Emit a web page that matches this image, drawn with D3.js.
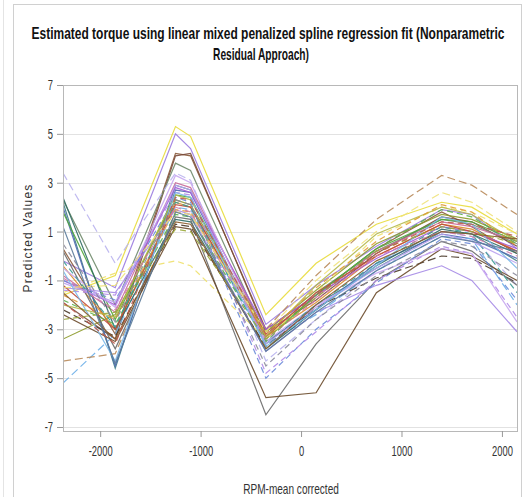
<!DOCTYPE html>
<html>
<head>
<meta charset="utf-8">
<script src="https://cdn.jsdelivr.net/npm/d3@7"></script>
<style>
  html, body { margin: 0; padding: 0; background: #fff; }
  svg { display: block; }
</style>
</head>
<body>
<svg id="chart" width="525" height="497"></svg>
<script>
// RPM knots (mean corrected) at which each subject's fitted curve is evaluated
const rpmKnots = [-2370, -1850, -1250, -1100, -350, 150, 750, 1400, 1700, 2150];

// Predicted torque for each subject, one row per subject, aligned with rpmKnots
const predictedValues = [
  [-1.6, -0.8, 5.3, 4.9, -2.4, -0.3, 1.3, 2.2, 2.0, 0.9],
  [-0.2, -1.3, 5.0, 4.4, -2.8, -1.2, 0.4, 1.9, 1.7, 0.3],
  [0.3, -3.2, 4.2, 4.1, -3.0, -1.6, 0.3, 1.8, 1.2, 0.1],
  [-1.9, -3.4, 4.1, 4.2, -3.1, -1.8, 0.1, 1.6, 1.4, 0.4],
  [2.3, -2.0, 3.8, 3.5, -3.3, -1.5, 0.2, 1.5, 1.3, 0.5],
  [3.4, -0.3, 3.4, 3.1, -4.3, -2.6, -0.6, 1.0, 0.8, -1.2],
  [2.2, -4.6, 2.9, 2.7, -3.6, -2.0, -0.5, 1.0, 0.9, -0.2],
  [2.0, -4.5, 2.7, 2.6, -3.5, -2.2, -0.3, 0.9, 0.7, -0.1],
  [-0.8, -2.3, 3.0, 2.8, -3.2, -1.7, 0.2, 1.4, 1.2, 0.6],
  [1.8, -2.6, 2.5, 2.4, -3.4, -1.6, 0.3, 1.5, 1.4, 0.6],
  [-3.4, -2.4, 2.3, 2.1, -3.1, -1.4, 0.5, 1.7, 1.5, 0.7],
  [-0.4, -3.0, 2.2, 2.0, -3.3, -1.9, 0.0, 1.3, 1.1, 0.2],
  [-5.2, -3.2, 2.0, 1.9, -3.6, -2.4, -0.6, 0.8, 0.7, -2.0],
  [-4.3, -4.0, 1.8, 1.7, -3.0, -0.8, 1.5, 3.3, 2.9, 1.7],
  [-1.5, -0.7, -0.2, -0.4, -3.4, -1.5, 0.8, 2.0, 1.8, 0.9],
  [2.4, -3.0, 1.5, 1.4, -3.8, -2.2, -0.4, 1.1, 0.9, 0.1],
  [-1.0, -2.0, 2.8, 2.6, -3.0, -1.6, -0.1, 1.2, 1.0, 0.3],
  [-2.2, -3.3, 1.3, 1.2, -3.7, -2.1, -0.9, 0.0, -0.1, -1.1],
  [0.2, -3.8, 1.6, 1.5, -6.5, -3.6, -1.0, 0.6, 0.2, -1.2],
  [-2.4, -3.5, 1.2, 1.1, -5.8, -5.6, -1.5, 0.3, 0.0, -1.0],
  [-1.3, -1.5, 1.9, 1.7, -3.9, -2.3, -1.2, -0.4, -1.0, -3.1],
  [-1.0, -1.8, 2.4, 2.2, -5.0, -3.0, -1.1, 0.7, 0.5, -1.8],
  [-1.4, -1.6, 2.6, 2.5, -4.8, -3.1, -1.0, 0.4, 0.1, -2.5],
  [-0.5, -2.1, 3.3, 3.0, -3.5, -2.0, -0.7, 0.3, 0.1, -2.7],
  [-1.2, -3.0, 2.1, 2.0, -3.3, -1.5, 0.0, 1.3, 1.0, 0.2],
  [-1.8, -2.8, 1.7, 1.6, -3.5, -1.6, 0.3, 1.9, 1.6, 0.5],
  [-2.0, -2.5, 2.5, 2.3, -3.3, -1.2, 0.9, 2.0, 1.7, 0.6],
  [-0.2, -2.9, 2.2, 2.0, -3.6, -2.0, -0.3, 1.2, 0.9, -1.5],
  [-1.6, -2.6, 1.9, 1.8, -3.2, -1.3, 0.6, 2.1, 1.8, 0.4],
  [-0.9, -2.2, 2.0, 1.8, -3.4, -1.8, 0.0, 1.0, 0.8, 0.0],
  [-1.1, -1.9, 2.9, 2.7, -3.6, -2.1, -0.5, 0.9, 0.6, -0.3],
  [-0.6, -4.3, 2.6, 2.4, -3.7, -2.2, -0.4, 1.6, 1.3, -0.5],
  [-1.5, -3.4, 1.4, 1.3, -3.8, -2.0, -0.2, 1.0, 0.9, 0.7],
  [-2.6, -2.3, 1.1, 1.0, -3.4, -1.7, 0.2, 1.2, 1.0, 0.5],
  [-1.3, -1.2, 1.8, 1.7, -3.1, -1.0, 1.0, 2.6, 2.2, 1.0],
  [0.5, -2.7, 2.3, 2.1, -4.5, -2.6, -0.8, 0.6, 0.4, -0.8],
  [1.2, -4.4, 1.8, 1.6, -3.9, -2.3, -0.6, 0.8, 0.6, 0.2],
  [-1.9, -3.6, 2.4, 2.3, -3.2, -1.6, 0.1, 1.4, 1.3, 0.8]
];

// Line colour and dash pattern for each subject (same order as predictedValues)
const lineColors = [
  "#e8dc3c", "#9a7be0", "#8a5a3a", "#7a4a3a", "#6f8a6a", "#b9b3ee",
  "#3f7f86", "#4f67b0", "#c86a9a", "#4fa63a", "#8c9a2a", "#d88a2a",
  "#6aaee8", "#b88a5a", "#eee06a", "#2f6a62", "#a45ad8", "#4a3a2a",
  "#6a6a6a", "#6a4a2a", "#a58ae6", "#6a8ad8", "#b08ae8", "#c7a6f0",
  "#c04a3a", "#5ab04a", "#b4b84a", "#3a9a92", "#e09a3a", "#d07aa8",
  "#b8a0f0", "#7ab8e8", "#8a5a2a", "#9aa83a", "#efe27a", "#8a8a9a",
  "#5a7a9a", "#c05a4a"
];
const lineDashes = [
  "", "", "", "", "", "8,4",
  "", "", "", "", "", "",
  "8,4", "8,4", "6,4", "", "", "8,4",
  "", "", "", "6,4", "6,4", "",
  "", "6,4", "", "6,4", "6,4", "6,4",
  "", "", "", "6,4", "8,4", "6,4",
  "", "6,4"
];

const yTicks = [-7, -5, -3, -1, 1, 3, 5, 7];
const xTicks = [-2000, -1000, 0, 1000, 2000];

const titleLines = [
  "Estimated torque using linear mixed penalized spline regression fit (Nonparametric",
  "Residual Approach)"
];
const xTitle = "RPM-mean corrected";
const yTitle = "Predicted Values";

const svg = d3.select("#chart");
const plot = { left: 63, right: 517, top: 85, bottom: 431 };
const sansFont = "'Liberation Sans', Arial, sans-serif";
const squeeze = 0.67; // horizontal compression giving a condensed face

// Outer panel frames
svg.append("line").attr("x1", 3.5).attr("x2", 3.5).attr("y1", 0).attr("y2", 497)
  .attr("stroke", "#e4e4e4");
svg.append("rect").attr("x", 13.5).attr("y", 4.5).attr("width", 508).attr("height", 500)
  .attr("fill", "none").attr("stroke", "#d0d0d0");

const x = d3.scaleLinear().domain([-2370, 2150]).range([plot.left, plot.right]);
const y = d3.scaleLinear().domain([-7, 7]).range([427, 85]);

// Gridlines
svg.append("g").selectAll("line").data(yTicks).join("line")
  .attr("x1", plot.left).attr("x2", plot.right)
  .attr("y1", d => Math.round(y(d)) + 0.5).attr("y2", d => Math.round(y(d)) + 0.5)
  .attr("stroke", "#e2e2e2").attr("stroke-width", 1);

// Subject curves
const line = d3.line().x((d, i) => x(rpmKnots[i])).y(d => y(d));
svg.append("clipPath").attr("id", "plotClip").append("rect")
  .attr("x", plot.left).attr("y", plot.top).attr("width", plot.right - plot.left)
  .attr("height", plot.bottom - plot.top);
svg.append("g").attr("clip-path", "url(#plotClip)")
  .selectAll("path").data(predictedValues).join("path")
  .attr("d", line)
  .attr("fill", "none")
  .attr("stroke", (d, i) => lineColors[i % lineColors.length])
  .attr("stroke-dasharray", (d, i) => lineDashes[i] || null)
  .attr("stroke-width", 1.2)
  .attr("stroke-opacity", 0.9);

// Frame of the plot area
svg.append("rect")
  .attr("x", plot.left + 0.5).attr("y", plot.top + 0.5)
  .attr("width", plot.right - plot.left).attr("height", plot.bottom - plot.top)
  .attr("fill", "none").attr("stroke", "#b8b8b8");

// Axes
const yAxis = d3.axisLeft(y).tickValues(yTicks).tickSize(6).tickFormat(d => String(d));
const gy = svg.append("g").attr("transform", `translate(${plot.left},0)`).call(yAxis);
const xAxis = d3.axisBottom(x).tickValues(xTicks).tickSize(6).tickPadding(9).tickFormat(d => String(d));
const gx = svg.append("g").attr("transform", `translate(0,${plot.bottom})`).call(xAxis);
[gx, gy].forEach(g => {
  g.attr("font-family", sansFont);
  g.select(".domain").remove();
  g.selectAll(".tick line").attr("stroke", "#999");
  g.selectAll(".tick text")
    .attr("font-size", 14)
    .attr("fill", "#333")
    .attr("transform", `scale(${squeeze},1)`);
});
gy.selectAll(".tick text").attr("x", -10 / squeeze);

// Title: two centred lines, each compressed to its set width
const titleLayout = [{ cx: 268, w: 473 }, { cx: 261, w: 96 }];
svg.append("g").selectAll("text").data(titleLines).join("text")
  .attr("text-anchor", "middle")
  .attr("font-family", sansFont)
  .attr("font-size", 16)
  .attr("font-weight", "bold")
  .attr("fill", "#111")
  .text(d => d)
  .attr("transform", function (d, i) {
    const natural = this.getComputedTextLength();
    const s = titleLayout[i].w / natural;
    return `translate(${titleLayout[i].cx},${39 + i * 21}) scale(${s},1)`;
  });

svg.append("text")
  .attr("transform", `translate(291,494) scale(0.72,1)`)
  .attr("text-anchor", "middle")
  .attr("font-family", sansFont)
  .attr("font-size", 14)
  .attr("fill", "#333")
  .text(xTitle);

svg.append("text")
  .attr("transform", "translate(32,238) rotate(-90)")
  .attr("text-anchor", "middle")
  .attr("font-family", sansFont)
  .attr("font-size", 12)
  .attr("letter-spacing", 1.2)
  .attr("fill", "#333")
  .text(yTitle);
</script>
</body>
</html>
